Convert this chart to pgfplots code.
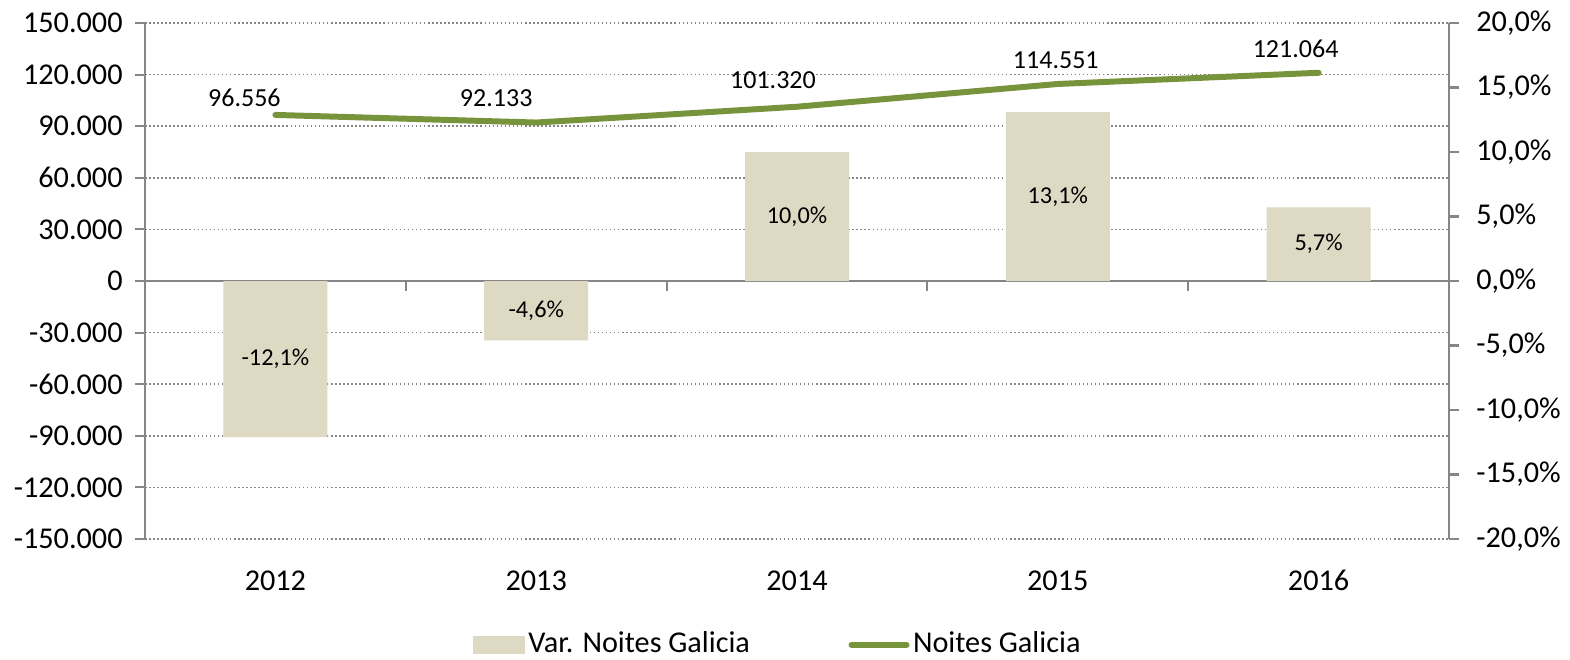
\documentclass[border=0pt]{standalone}
\usepackage{fontspec}
\setmainfont{Carlito}
\usepackage{pgfplots}
\usepackage{pgfplotstable}
\pgfplotsset{compat=1.18}

\definecolor{barfill}{HTML}{DDD9C3}
\definecolor{linegreen}{HTML}{77933C}
\definecolor{axgray}{HTML}{868686}

% Var. Noites Galicia (%)
\pgfplotstableread{
x y
0 -12.1
1 -4.6
2 10.0
3 13.1
4 5.7
}\vardata

% Noites Galicia, with label offsets (cm)
\pgfplotstableread{
x y dx dy
0 96556 -0.31 0.17
1 92133 -0.40 0.24
2 101320 -0.24 0.27
3 114551 -0.02 0.24
4 121064 -0.23 0.24
}\noitesdata

\pgfplotsset{
  base/.style={
    scale only axis, width=13.04cm, height=5.16cm,
    xmin=-0.5, xmax=4.5,
    /pgf/number format/assume math mode=true,
    tick align=outside,
    major tick length=0.1cm,
    tick style={axgray, line width=0.6pt},
  },
}
\newcommand{\tickfont}{\fontsize{8.6}{10}\selectfont}

\begin{document}
\begin{tikzpicture}
% left axis, grid, year labels
\begin{axis}[base,
  ymin=-150000, ymax=150000, ytick distance=30000,
  scaled y ticks=false,
  /pgf/number format/fixed,
  /pgf/number format/1000 sep={.},
  yticklabel style={font=\tickfont},
  ymajorgrids,
  grid style={axgray, line width=0.5pt, dash pattern=on 0.45pt off 0.7pt},
  axis y line*=left, y axis line style={axgray, line width=0.6pt, -},
  axis x line*=bottom, x axis line style={draw=none},
  xtick={0,...,4}, xticklabels={2012,2013,2014,2015,2016},
  xtick style={draw=none},
  xticklabel style={font=\tickfont, yshift=-0.09cm},
]
\coordinate (bbSW) at (rel axis cs:-0.1112,-0.2326);
\coordinate (bbNE) at (rel axis cs:1.0928,1.0446);
\end{axis}

% bars on the right axis
\begin{axis}[base,
  ymin=-20, ymax=20, ytick distance=5,
  axis y line*=right, y axis line style={axgray, line width=0.6pt, -},
  axis x line*=middle, x axis line style={axgray, line width=0.6pt, -},
  xtick={0.5,1.5,2.5,3.5}, xticklabels={},
  yticklabel={\pgfmathprintnumber[fixed,fixed zerofill,precision=1,use comma]{\tick}\%},
  yticklabel style={font=\tickfont, xshift=0.05cm},
]
\addplot[ybar, bar width=1.04cm, fill=barfill, draw=none,
  nodes near coords={\pgfmathprintnumber[fixed,fixed zerofill,precision=1,use comma]{\pgfplotspointmeta}\%},
  visualization depends on={-0.5*rawy \as \negh},
  every node near coord/.append style={anchor=center, text=black,
    shift={(axis direction cs:0,\negh)}, font=\fontsize{6.9}{8}\selectfont}]
  table[x=x, y=y] {\vardata};
\end{axis}

% line on the left axis
\begin{axis}[base, hide axis,
  ymin=-150000, ymax=150000,
  legend columns=2,
  legend style={at={(0.486,-0.205)}, anchor=center, draw=none, fill=none,
    font=\tickfont, inner sep=0pt,
    /tikz/every even column/.append style={column sep=0.95cm},
    nodes={inner xsep=1pt}},
]
\addlegendimage{legend image code/.code={\fill[barfill] (0cm,-0.085cm) rectangle (0.5cm,0.085cm);}}
\addlegendentry{Var. Noites Galicia}
\addplot[linegreen, line width=1.7pt, line cap=round, mark=none,
  legend image code/.code={\draw[linegreen, line width=1.7pt, line cap=round] (0cm,0cm) -- (0.55cm,0cm);},
  nodes near coords={\pgfmathprintnumber[fixed,1000 sep={.}]{\pgfplotspointmeta}},
  visualization depends on={\thisrow{dx} \as \dx},
  visualization depends on={\thisrow{dy} \as \dy},
  every node near coord/.append style={anchor=center, text=black,
    xshift=\dx cm, yshift=\dy cm, font=\fontsize{7.4}{9}\selectfont}]
  table[x=x, y=y] {\noitesdata};
\addlegendentry{Noites Galicia}
\end{axis}

\pgfresetboundingbox
\path (bbSW) rectangle (bbNE);
\end{tikzpicture}
\end{document}
